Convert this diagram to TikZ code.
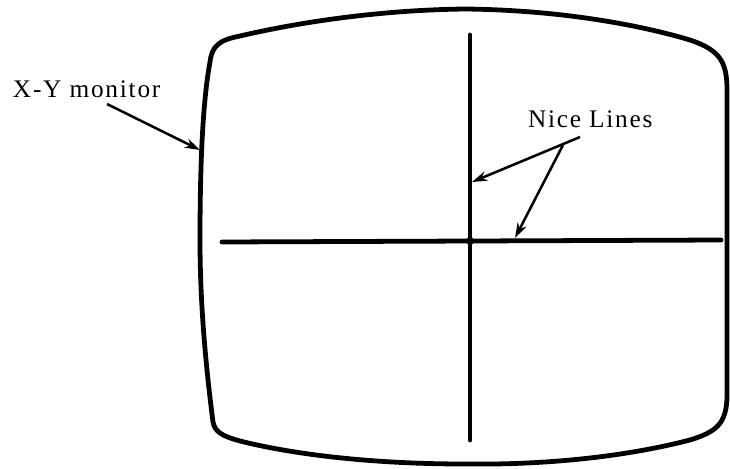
\documentclass[tikz,border=0pt]{standalone}
\usepackage{fontspec}
\setmainfont{Liberation Serif}
\newfontfamily\spacedfont[LetterSpace=7]{Liberation Serif}
\usepackage{tikz}
\usetikzlibrary{arrows.meta,positioning,calc}
\definecolor{InkBlack}{HTML}{000000}
\definecolor{PaperWhite}{HTML}{ffffff}
\tikzset{
    % Base label style
    basenode/.style={
        inner sep=0pt,
        outer sep=0pt,
        text=InkBlack,
        font=\spacedfont\fontsize{18}{21}\selectfont
    },
    % Callout label
    labelnode/.style={
        basenode,
        anchor=base west
    },
    % Screen outline
    screenline/.style={
        draw=InkBlack,
        line width=3.4pt,
        line join=round,
        line cap=round
    },
    % Trace lines on the screen
    traceline/.style={
        draw=InkBlack,
        line width=3.4pt,
        line cap=round
    },
    % Arrow style
    myarrow/.style={
        -{Stealth[length=0.38cm,width=0.24cm]},
        line width=1.8pt,
        draw=InkBlack
    },
    % Crossing dot
    dotnode/.style={
        circle,
        fill=InkBlack,
        inner sep=0pt,
        minimum size=0.2cm
    }
}
\begin{document}
\begin{tikzpicture}[x=0.025cm,y=-0.025cm]
    \useasboundingbox[fill=PaperWhite] (0,0) rectangle (730,468);

    % monitor face
    \draw[screenline] (210,62) .. controls (212,45) and (220,40) .. (240,36)
        .. controls (300,22) and (380,10) .. (465,9)
        .. controls (560,10) and (640,25) .. (690,40)
        .. controls (720,50) and (727,62) .. (727,90)
        -- (727,395)
        .. controls (727,425) and (715,432) .. (690,440)
        .. controls (620,458) and (540,465) .. (465,464)
        .. controls (380,464) and (300,456) .. (240,441)
        .. controls (222,436) and (215,432) .. (213,422)
        .. controls (205,360) and (200,300) .. (200,240)
        .. controls (200,160) and (203,100) .. (210,62) -- cycle;

    % trace ends
    \coordinate (hleft) at (222,242);
    \coordinate (hright) at (721,240);
    \coordinate (vtop) at (470,35);
    \coordinate (vbot) at (470,440);
    \draw[traceline] (hleft) -- (hright);
    \draw[traceline] (vtop) -- (vbot);
    \node[dotnode] (cross) at (470,241) {};

    % labels
    \node[labelnode] (xymon) at (13,97) {X-Y monitor};
    \node[labelnode] (nice) at (528,127) {Nice Lines};

    \coordinate (xystart) at (107,104);
    \coordinate (xytip) at (200,150);
    \coordinate (nicestart) at (580,137);
    \coordinate (nicefork) at (563,145);
    \coordinate (vtip) at (472,182);
    \coordinate (htip) at (515,238);

    \draw[myarrow] (xystart) -- (xytip);
    \draw[myarrow] (nicestart) -- (vtip);
    \draw[myarrow] (nicefork) -- (htip);
\end{tikzpicture}
\end{document}
